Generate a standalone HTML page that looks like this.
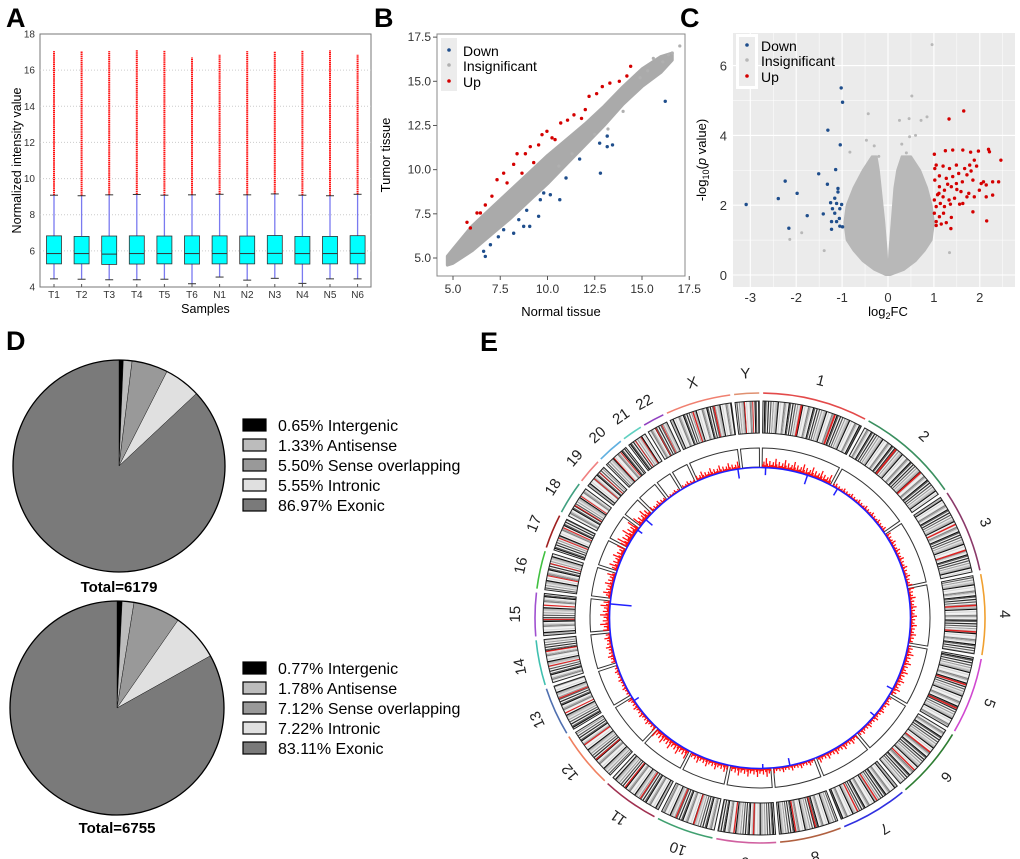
<!DOCTYPE html>
<html><head><meta charset="utf-8">
<style>
html,body{margin:0;padding:0;background:#fff;}
svg{display:block;font-family:"Liberation Sans",Arial,sans-serif;}
</style></head>
<body>
<svg id="fig" width="1020" height="859" viewBox="0 0 1020 859" xmlns="http://www.w3.org/2000/svg">
<g font-weight="bold" font-size="27" fill="#000">
<text x="6" y="27">A</text>
<text x="374" y="27">B</text>
<text x="680" y="27">C</text>
<text x="6" y="350">D</text>
<text x="480" y="351">E</text>
</g>
<g id="pA"></g>
<g id="pB"></g>
<g id="pC"></g>
<g id="pD"></g>
<g id="pE"></g>
</svg>
<script>
// ===== Panel A data =====
const samples = ["T1","T2","T3","T4","T5","T6","N1","N2","N3","N4","N5","N6"];
const q1 = [5.28,5.28,5.25,5.27,5.28,5.27,5.28,5.28,5.28,5.27,5.28,5.28];
const medians = [5.85,5.85,5.82,5.85,5.85,5.85,5.85,5.85,5.86,5.85,5.85,5.86];
const q3 = [6.83,6.8,6.82,6.83,6.82,6.83,6.83,6.82,6.85,6.8,6.8,6.84];
const whiskLow = [4.45,4.43,4.4,4.4,4.43,4.18,4.55,4.38,4.48,4.2,4.45,4.45];
const whiskHigh = [9.08,9.05,9.1,9.12,9.08,9.1,9.13,9.1,9.15,9.08,9.05,9.13];
const outMax = [17.05,17.05,17.05,17.1,17.1,16.7,16.85,17.05,17.05,17.1,17.1,16.85];
const aTicks = [4,6,8,10,12,14,16,18];

// ===== Panel B data =====
const bUpX = [5.74,5.92,6.27,6.45,6.71,7.06,7.33,7.68,7.86,8.21,8.39,8.65,8.83,9.09,9.27,9.53,9.71,9.97,10.24,10.4,10.7,11.06,11.4,11.8,12.0,12.2,12.6,12.9,13.3,13.8,14.4,14.2];
const bUpY = [7.02,6.7,7.55,7.55,8.0,8.5,9.43,9.8,9.25,10.3,10.9,9.8,10.9,11.3,10.4,11.4,11.98,12.17,11.8,11.7,12.64,12.8,13.1,12.9,13.4,14.15,14.3,14.7,14.9,15.0,15.85,15.3];
const bDownX = [6.62,6.71,6.98,7.4,7.68,8.21,8.48,8.74,9.06,8.9,9.53,9.62,9.8,10.15,10.65,10.98,11.7,12.8,12.76,13.16,13.16,13.44,16.23];
const bDownY = [5.38,5.09,5.75,6.2,6.6,6.4,7.17,6.79,6.79,7.7,7.36,8.3,8.68,8.58,8.3,9.53,10.6,9.8,11.5,11.9,11.3,11.4,13.87];
const bBandX = [4.7,5,6,7,8,9,10,11,12,13,14,15,16,16.6];
const bBandLo = [4.6,4.7,5.4,6.3,7.2,8.2,9.2,10.3,11.4,12.5,13.7,14.7,15.5,16.2];
const bBandHi = [5.1,5.5,6.8,7.8,8.8,9.8,10.8,11.7,12.6,13.6,14.7,15.7,16.4,16.6];
const bGrayX = [17.0,16.4,16.1,15.6,15.3,14.9,16.6,12.5,13.2,14.0,11.3,10.6];
const bGrayY = [17.0,16.5,16.1,16.3,15.6,15.2,16.6,12.0,12.3,13.3,10.9,10.2];
const bTicks = [5,7.5,10,12.5,15,17.5];

// ===== Panel C data =====
const cDownFC = [-3.09,-2.39,-2.24,-1.98,-2.16,-1.76,-1.51,-1.31,-1.32,-1.41,-1.14,-1.02,-0.99,-1.04,-1.25,-1.21,-1.16,-1.12,-1.09,-1.09,-1.05,-1.01,-1.23,-1.12,-1.06,-1.05,-0.99,-1.23,-1.16];
const cDownP = [2.02,2.19,2.69,2.34,1.34,1.7,2.9,4.15,2.6,1.75,3.02,5.36,4.95,3.73,2.07,1.9,2.2,2.05,2.48,2.38,1.9,2.02,1.53,1.53,1.62,1.4,1.38,1.31,1.77];
const cUpFC = [1.33,1.65,1.01,1.25,1.41,1.63,1.8,1.97,2.19,2.21,2.46,1.88,1.05,1.2,1.34,1.49,1.67,1.81,1.93,1.02,1.12,1.27,1.41,1.54,1.62,1.72,1.85,2.08,2.28,2.41,1.99,2.14,2.03,1.12,1.23,1.38,1.49,1.59,1.76,1.88,2.14,2.28,1.01,1.11,1.2,1.33,1.45,1.05,1.14,1.23,1.36,1.56,1.01,1.12,1.21,1.38,1.05,1.16,1.05,1.27,1.37,1.85,2.15,1.72,1.63,1.02,1.78,1.08,1.3,1.5];
const cUpP = [4.47,4.7,3.46,3.56,3.58,3.58,3.52,3.55,3.6,3.53,3.29,3.29,3.15,3.12,3.05,3.15,3.05,2.98,3.12,2.72,2.84,2.77,2.82,2.91,2.67,2.87,2.72,2.67,2.67,2.67,2.43,2.58,2.62,2.53,2.43,2.53,2.62,2.39,2.34,2.24,2.24,2.29,2.15,2.34,2.24,2.15,2.2,1.96,2.05,1.96,2.03,2.03,1.77,1.67,1.77,1.65,1.53,1.46,1.42,1.5,1.33,1.81,1.55,2.24,2.05,3.05,3.15,2.3,2.6,2.45];
const cGrayFC = [0.96,0.52,-0.43,0.46,0.25,0.85,0.72,0.47,-0.83,-1.88,-2.14,-1.39,1.34,-0.47,-0.3,0.3,0.6,-0.2,0.4];
const cGrayP = [6.6,5.13,4.62,4.48,4.43,4.53,4.43,3.96,3.52,1.21,1.02,0.7,0.64,3.86,3.7,3.75,4.0,3.4,3.5];
const cLobeP = [0,0.15,0.4,0.7,1,1.5,2,2.5,3,3.4];
const cLeftOuter = [-0.05,-0.3,-0.55,-0.75,-0.9,-0.95,-0.9,-0.75,-0.55,-0.35];
const cLeftInner = [0,-0.01,-0.02,-0.03,-0.05,-0.08,-0.12,-0.16,-0.2,-0.25];
const cRightInner = [0,0.01,0.02,0.03,0.05,0.08,0.11,0.14,0.2,0.3];
const cRightOuter = [0.05,0.35,0.6,0.8,0.95,1.0,0.95,0.85,0.7,0.5];
const cXTicks = [-3,-2,-1,0,1,2];
const cYTicks = [0,2,4,6];

// ===== Panel D data =====
const pieCats = ["Intergenic","Antisense","Sense overlapping","Intronic","Exonic"];
const pie1Vals = [0.65,1.33,5.50,5.55,86.97];
const pie2Vals = [0.77,1.78,7.12,7.22,83.11];
const pieTotals = [6179,6755];

// ===== Panel E data =====
const chrNames = ["1","2","3","4","5","6","7","8","9","10","11","12","13","14","15","16","17","18","19","20","21","22","X","Y"];
const chrLens = [249,243,198,191,181,171,159,146,141,136,135,134,115,107,103,90,81,78,59,63,48,51,155,59];
const chrColors = ["#e34a4a","#3a8f5f","#8b3a6a","#f0a030","#d048d0","#2e7d32","#3030e0","#b06040","#d060a0","#40a070","#a03050","#f08060","#5070b0","#40c0b0","#a050d0","#40c040","#a02020","#40a080","#f08080","#60b0e0","#60d0c0","#9040c0","#f08070","#e09070"];
const redLevel = [9,4,5,6,7,5,6,5,8,7,9,5,4,6,9,8,9,12,10,5,3,4,7,0];
const blueSpikes = [[0,0.05,8],[0,0.65,10],[1,0.08,8],[4,0.9,7],[5,0.5,6],[7,0.6,8],[8,0.2,5],[11,0.9,6],[14,0.9,22],[17,0.9,6],[18,0.5,9],[22,0.95,10]];

const NS="http://www.w3.org/2000/svg";
function mk(parent, tag, attrs, text){const e=document.createElementNS(NS,tag);for(const k in attrs)e.setAttribute(k,attrs[k]);if(text!==undefined)e.textContent=text;parent.appendChild(e);return e;}

// ---------- Panel A ----------
(function(){
const g=document.getElementById('pA');
const L=40,R=371,T=34,B=287;
const y=v=>B-(v-4)/(18-4)*(B-T);
const x=i=>54+i*27.6;
mk(g,'rect',{x:L,y:T,width:R-L,height:B-T,fill:'#fff',stroke:'#777','stroke-width':1});
aTicks.forEach(t=>{
 if(t>4&&t<18){const l=mk(g,'line',{x1:L,x2:R,y1:y(t),y2:y(t),stroke:'#ccc','stroke-dasharray':'1,2'});}
 const tx=mk(g,'text',{x:L-5,y:y(t)+3.5,'font-size':10,'text-anchor':'end',fill:'#333'},String(t));
 
});
samples.forEach((s,i)=>{
 const cx=x(i);
 const o=mk(g,'line',{x1:cx,x2:cx,y1:y(whiskHigh[i]),y2:y(outMax[i]),stroke:'#ff1010','stroke-width':2,'stroke-dasharray':'1.5,0.6'});
 
 const w=mk(g,'line',{x1:cx,x2:cx,y1:y(whiskLow[i]),y2:y(whiskHigh[i]),stroke:'#7a7af0','stroke-width':1.3});
 
 mk(g,'line',{x1:cx-4,x2:cx+4,y1:y(whiskHigh[i]),y2:y(whiskHigh[i]),stroke:'#333','stroke-width':1});
 mk(g,'line',{x1:cx-4,x2:cx+4,y1:y(whiskLow[i]),y2:y(whiskLow[i]),stroke:'#333','stroke-width':1});
 const b=mk(g,'rect',{x:cx-7.5,y:y(q3[i]),width:15,height:y(q1[i])-y(q3[i]),fill:'#00ffff',stroke:'#333','stroke-width':0.8});
 
 mk(g,'line',{x1:cx-7.5,x2:cx+7.5,y1:y(medians[i]),y2:y(medians[i]),stroke:'#333','stroke-width':1});
 mk(g,'line',{x1:cx,x2:cx,y1:B,y2:B-3,stroke:'#555'});
 const t=mk(g,'text',{x:cx,y:B+11,'font-size':10,'text-anchor':'middle',fill:'#333'},s);
 
});
const yl=mk(g,'text',{x:0,y:0,'font-size':12.5,'text-anchor':'middle',transform:`translate(21,${(T+B)/2}) rotate(-90)`},'Normalized intensity value');

const xl=mk(g,'text',{x:(L+R)/2,y:313,'font-size':12.5,'text-anchor':'middle'},'Samples');

})();

// ---------- Panel B ----------
(function(){
const g=document.getElementById('pB');
const L=437,R=685,T=34,B=276;
const x=v=>453+(v-5)*18.9;
const y=v=>258-(v-5)*17.67;
mk(g,'rect',{x:L,y:T,width:R-L,height:B-T,fill:'#fff',stroke:'#888','stroke-width':1});
bTicks.forEach(t=>{
 mk(g,'line',{x1:x(t),x2:x(t),y1:B,y2:B+4,stroke:'#555'});
 const a=mk(g,'text',{x:x(t),y:B+17,'font-size':12,'text-anchor':'middle',fill:'#333'},t.toFixed(1));
 
 mk(g,'line',{x1:L,x2:L-4,y1:y(t),y2:y(t),stroke:'#555'});
 const b=mk(g,'text',{x:L-6,y:y(t)+4,'font-size':12,'text-anchor':'end',fill:'#333'},t.toFixed(1));
 
});
let d='';
bBandX.forEach((v,i)=>{d+=(i?'L':'M')+x(v)+','+y(bBandHi[i]);});
for(let i=bBandX.length-1;i>=0;i--)d+='L'+x(bBandX[i])+','+y(bBandLo[i]);
const band=mk(g,'path',{d:d+'Z',fill:'#aaaaaa',stroke:'#aaaaaa','stroke-width':3,'stroke-linejoin':'round'});

bGrayX.forEach((v,i)=>{const c=mk(g,'circle',{cx:x(v),cy:y(bGrayY[i]),r:1.6,fill:'#b0b0b0'});});
bUpX.forEach((v,i)=>{const c=mk(g,'circle',{cx:x(v),cy:y(bUpY[i]),r:1.7,fill:'#d40000'});});
bDownX.forEach((v,i)=>{const c=mk(g,'circle',{cx:x(v),cy:y(bDownY[i]),r:1.7,fill:'#1f4e8c'});});
const lg=mk(g,'g',{});
mk(lg,'rect',{x:441,y:38,width:16,height:53,fill:'#ececec'});
[['Down','#1f4e8c',51],['Insignificant','#b0b0b0',66],['Up','#d40000',82]].forEach(e=>{
 mk(lg,'circle',{cx:449,cy:e[2]-1,r:1.8,fill:e[1]});
 const t=mk(lg,'text',{x:463,y:e[2]+5,'font-size':14},e[0]);
});
const yl=mk(g,'text',{x:0,y:0,'font-size':13,'text-anchor':'middle',transform:`translate(390,${(T+B)/2}) rotate(-90)`},'Tumor tissue');

const xl=mk(g,'text',{x:(L+R)/2,y:316,'font-size':13,'text-anchor':'middle'},'Normal tissue');

})();

// ---------- Panel C ----------
(function(){
const g=document.getElementById('pC');
const L=733,R=1015,T=33,B=287;
const x=v=>888+v*45.9;
const y=v=>275-v*34.9;
mk(g,'rect',{x:L,y:T,width:R-L,height:B-T,fill:'#ebebeb'});
for(let v=-3.5;v<=2.5;v+=0.5){mk(g,'line',{x1:x(v),x2:x(v),y1:T,y2:B,stroke:'#fff','stroke-width':Number.isInteger(v)?1.1:0.5});}
for(let v=-1;v<=7;v+=1){if(y(v)>T&&y(v)<B)mk(g,'line',{x1:L,x2:R,y1:y(v),y2:y(v),stroke:'#fff','stroke-width':v%2===0?1.1:0.5});}
cXTicks.forEach(t=>{const a=mk(g,'text',{x:x(t),y:B+15,'font-size':13,'text-anchor':'middle',fill:'#333'},String(t));});
cYTicks.forEach(t=>{const a=mk(g,'text',{x:L-6,y:y(t)+5,'font-size':13,'text-anchor':'end',fill:'#333'},String(t));});
function lobe(outer,inner,name){
 let d='';cLobeP.forEach((p,i)=>{d+=(i?'L':'M')+x(outer[i])+','+y(p);});
 for(let i=cLobeP.length-1;i>=0;i--)d+='L'+x(inner[i])+','+y(cLobeP[i]);
 const p=mk(g,'path',{d:d+'Z',fill:'#b8b8b8',stroke:'#b8b8b8','stroke-width':2,'stroke-linejoin':'round'});
 
}
lobe(cLeftOuter,cLeftInner,'insignificant-cloud-left');
lobe(cRightOuter,cRightInner,'insignificant-cloud-right');
cGrayFC.forEach((v,i)=>{const c=mk(g,'circle',{cx:x(v),cy:y(cGrayP[i]),r:1.5,fill:'#b8b8b8'});});
cUpFC.forEach((v,i)=>{const c=mk(g,'circle',{cx:x(v),cy:y(cUpP[i]),r:1.7,fill:'#d40000'});});
cDownFC.forEach((v,i)=>{const c=mk(g,'circle',{cx:x(v),cy:y(cDownP[i]),r:1.7,fill:'#1f4e8c'});});
const lg=mk(g,'g',{});
mk(lg,'rect',{x:736,y:34,width:22,height:55,fill:'#fff'});
mk(lg,'rect',{x:739,y:37,width:16,height:49,fill:'#ececec'});
[['Down','#1f4e8c',47],['Insignificant','#b8b8b8',62],['Up','#d40000',78]].forEach(e=>{
 mk(lg,'circle',{cx:747,cy:e[2]-2,r:1.8,fill:e[1]});
 const t=mk(lg,'text',{x:761,y:e[2]+4,'font-size':14},e[0]);
});
const yl=mk(g,'text',{x:0,y:0,'font-size':13,'text-anchor':'middle',transform:`translate(706,${(T+B)/2}) rotate(-90)`});

yl.innerHTML='-log<tspan font-size="9" dy="3">10</tspan><tspan dy="-3">(</tspan><tspan font-style="italic">p</tspan> value)';
const xl=mk(g,'text',{x:x(0),y:316,'font-size':13,'text-anchor':'middle'});

xl.innerHTML='log<tspan font-size="9" dy="3">2</tspan><tspan dy="-3">FC</tspan>';
})();

// ---------- Panel D ----------
(function(){
const g=document.getElementById('pD');
const fills=['#000','#bcbcbc','#999','#e0e0e0','#7a7a7a'];
function pie(vals,cx,cy,r,ly,total,ty,idx){
 const tot=vals.reduce((a,b)=>a+b,0);let a0=0;
 vals.forEach((v,i)=>{
  const a1=a0+v/tot*2*Math.PI;
  const x0=cx+r*Math.sin(a0),y0=cy-r*Math.cos(a0),x1=cx+r*Math.sin(a1),y1=cy-r*Math.cos(a1);
  const p=mk(g,'path',{d:`M${cx},${cy}L${x0},${y0}A${r},${r} 0 ${a1-a0>Math.PI?1:0} 1 ${x1},${y1}Z`,fill:fills[i],stroke:'#000','stroke-width':0.4});
  
  a0=a1;
 });
 mk(g,'circle',{cx:cx,cy:cy,r:r,fill:'none',stroke:'#000','stroke-width':1.3});
 vals.forEach((v,i)=>{
  const yy=ly+i*20;
  const s=mk(g,'rect',{x:243,y:yy-6,width:23,height:12,fill:fills[i],stroke:'#000','stroke-width':1.2});
  
  const t=mk(g,'text',{x:278,y:yy+6,'font-size':16,'xml:space':'preserve'},v.toFixed(2)+'%  '+pieCats[i]);
  
 });
 const tt=mk(g,'text',{x:cx,y:ty,'font-size':15,'font-weight':'bold','text-anchor':'middle'},'Total='+total);
 
}
pie(pie1Vals,119,466,106,425,pieTotals[0],592,1);
pie(pie2Vals,117,708,107,668,pieTotals[1],833,2);
})();

// ---------- Panel E ----------
(function(){
const g=document.getElementById('pE');
const cx=760,cy=618;
const gap=1.0*Math.PI/180;
const total=chrLens.reduce((a,b)=>a+b,0);
const avail=2*Math.PI-gap*chrLens.length;
const pt=(a,r)=>[cx+r*Math.sin(a),cy-r*Math.cos(a)];
function sector(a0,a1,r0,r1){
 const [x0,y0]=pt(a0,r1),[x1,y1]=pt(a1,r1),[x2,y2]=pt(a1,r0),[x3,y3]=pt(a0,r0);
 const lg=a1-a0>Math.PI?1:0;
 return `M${x0},${y0}A${r1},${r1} 0 ${lg} 1 ${x1},${y1}L${x2},${y2}A${r0},${r0} 0 ${lg} 0 ${x3},${y3}Z`;
}
function arc(a0,a1,r){const [x0,y0]=pt(a0,r),[x1,y1]=pt(a1,r);return `M${x0},${y0}A${r},${r} 0 ${a1-a0>Math.PI?1:0} 1 ${x1},${y1}`;}
const shades=['#fff','#d8d8d8','#a0a0a0','#fff','#5a5a5a','#eaeaea','#111','#c4c4c4','#fff','#808080','#e4e4e4','#2a2a2a','#fff','#b0b0b0'];
const pat=[0,3,1,6,2,8,4,10,5,12,7,9,11,13,2,0,6,1,4,3];
const spans=[];
let a=gap/2+0.3*Math.PI/180;
chrNames.forEach((n,c)=>{
 const span=chrLens[c]/total*avail;const a0=a,a1=a+span;
 spans.push([a0,span]);
 const ring=mk(g,'path',{d:arc(a0,a1,225),fill:'none',stroke:chrColors[c],'stroke-width':1.6});
 
 mk(g,'path',{d:sector(a0,a1,185,217),fill:'#f4f4f4'});
 const nb=Math.max(6,Math.round(chrLens[c]/3));
 for(let k=0;k<nb;k++){
  const s=shades[pat[(k*3+c*5)%pat.length]];
  if(s==='#fff')continue;
  const b0=a0+span*k/nb,b1=a0+span*(k+1)/nb;
  mk(g,'path',{d:sector(b0,b1,185,217),fill:s});
 }
 [0.37,0.71].forEach(f=>{const b0=a0+span*f;mk(g,'path',{d:sector(b0,b0+span*0.012+0.003,185,217),fill:'#e02020'});});
 const box=mk(g,'path',{d:sector(a0,a1,185,217),fill:'none',stroke:'#222','stroke-width':1});
 
 const tb=mk(g,'path',{d:sector(a0,a1,151,170),fill:'none',stroke:'#333','stroke-width':1});
 
 const nbar=Math.round(chrLens[c]/4);
 for(let k=0;k<nbar;k++){
  const h=redLevel[c]*[0.3,0.6,0.2,1,0.4,0.15,0.7,0.25][(k+c)%8];
  if(h<0.5)continue;
  const b=a0+span*(k+0.5)/nbar;const [x0,y0]=pt(b,151),[x1,y1]=pt(b,151+Math.min(h,17));
  mk(g,'line',{x1:x0,y1:y0,x2:x1,y2:y1,stroke:'#ff1010','stroke-width':1.3});
 }
 const mid=(a0+a1)/2;const [lx,ly]=pt(mid,245);
 const t=mk(g,'text',{x:lx,y:ly+5,'font-size':15,'text-anchor':'middle',fill:'#222',transform:`rotate(${mid*180/Math.PI},${lx},${ly})`},n);
 
 a=a1+gap;
});
const base=mk(g,'circle',{cx:cx,cy:cy,r:150.5,fill:'none',stroke:'#2020ff','stroke-width':1.6});

blueSpikes.forEach(s=>{
 const [a0,span]=spans[s[0]];const b=a0+span*s[1];
 const [x0,y0]=pt(b,151),[x1,y1]=pt(b,151-s[2]);
 const l=mk(g,'line',{x1:x0,y1:y0,x2:x1,y2:y1,stroke:'#2020ff','stroke-width':1.5});
 
});
})();
</script>
</body></html>
